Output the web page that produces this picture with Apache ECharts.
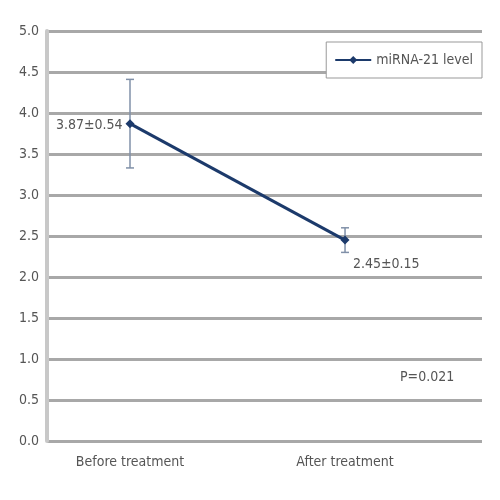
<!DOCTYPE html>
<html><head><meta charset="utf-8">
<script src="https://cdn.jsdelivr.net/npm/echarts@6/dist/echarts.min.js"></script>
<style>html,body{margin:0;padding:0;background:#fff}#c{width:500px;height:500px}</style>
</head><body><div id="c"></div>
<script>
const categories = ['Before treatment', 'After treatment'];
const means = [3.87, 2.45];
const sds = [0.54, 0.15];
const meanLabels = ['3.87±0.54', '2.45±0.15'];
const yTicks = ['0.0','0.5','1.0','1.5','2.0','2.5','3.0','3.5','4.0','4.5','5.0'];
const seriesName = 'miRNA-21 level';
const pText = 'P=0.021';

const FONT = '"Liberation Sans Narrow","DejaVu Sans Condensed","Roboto Condensed",sans-serif';
const lineData = means.map((v, i) => [i, v]);
const errData = means.map((v, i) => [i, v - sds[i], v + sds[i]]);

const chart = echarts.init(document.getElementById('c'));
chart.setOption({
  animation: false,
  grid: { left: 47, right: 18, top: 31, bottom: 59 },
  legend: {
    right: 18, top: 42, data: [seriesName],
    backgroundColor: '#fff',
    borderColor: '#999', borderWidth: 1, padding: [11, 9, 11, 8],
    itemWidth: 36, itemHeight: 10, itemGap: 6,
    textStyle: { fontFamily: FONT, fontSize: 14, color: '#555' }
  },
  xAxis: {
    type: 'value', min: -0.386, max: 1.637,
    splitLine: { show: false },
    axisLine: { show: false },
    axisTick: { show: false },
    axisLabel: {
      customValues: [0, 1],
      formatter: v => categories[Math.round(v)] || '',
      fontFamily: FONT, fontSize: 14, color: '#555', margin: 14
    }
  },
  yAxis: {
    type: 'value', min: 0, max: 5, interval: 0.5,
    axisLine: { show: true, onZero: false, lineStyle: { color: '#c8c8c8', width: 4 } },
    axisTick: { show: false },
    splitLine: { show: true, lineStyle: { color: '#a8a8a8', width: 3 } },
    axisLabel: {
      formatter: v => yTicks[Math.round(v * 2)],
      fontFamily: FONT, fontSize: 14, color: '#555', margin: 8
    }
  },
  series: [
    {
      name: seriesName, type: 'line', data: lineData,
      symbol: 'diamond', symbolSize: 9,
      itemStyle: { color: '#1c3a6b' },
      lineStyle: { color: '#1c3a6b', width: 3 },
      label: {
        show: true, fontFamily: FONT, fontSize: 14, color: '#555',
        formatter: p => meanLabels[p.dataIndex],
        position: 'left'
      },
      labelLayout: p => p.dataIndex === 0 ? { dx: 2, dy: 2 } : { dx: 84, dy: 24 },
      z: 3
    },
    {
      type: 'custom', data: errData, z: 2, silent: true,
      renderItem: (params, api) => {
        const x = api.value(0);
        const lo = api.coord([x, api.value(1)]);
        const hi = api.coord([x, api.value(2)]);
        const w = 4;
        const st = { stroke: '#8090a8', lineWidth: 1.5 };
        return { type: 'group', children: [
          { type: 'line', shape: { x1: lo[0], y1: lo[1], x2: hi[0], y2: hi[1] }, style: st },
          { type: 'line', shape: { x1: lo[0]-w, y1: lo[1], x2: lo[0]+w, y2: lo[1] }, style: st },
          { type: 'line', shape: { x1: hi[0]-w, y1: hi[1], x2: hi[0]+w, y2: hi[1] }, style: st }
        ]};
      }
    }
  ],
  graphic: [{
    type: 'text', left: 400, top: 370,
    style: { text: pText, font: '14px ' + FONT, fill: '#555' }
  }]
});
</script></body></html>
